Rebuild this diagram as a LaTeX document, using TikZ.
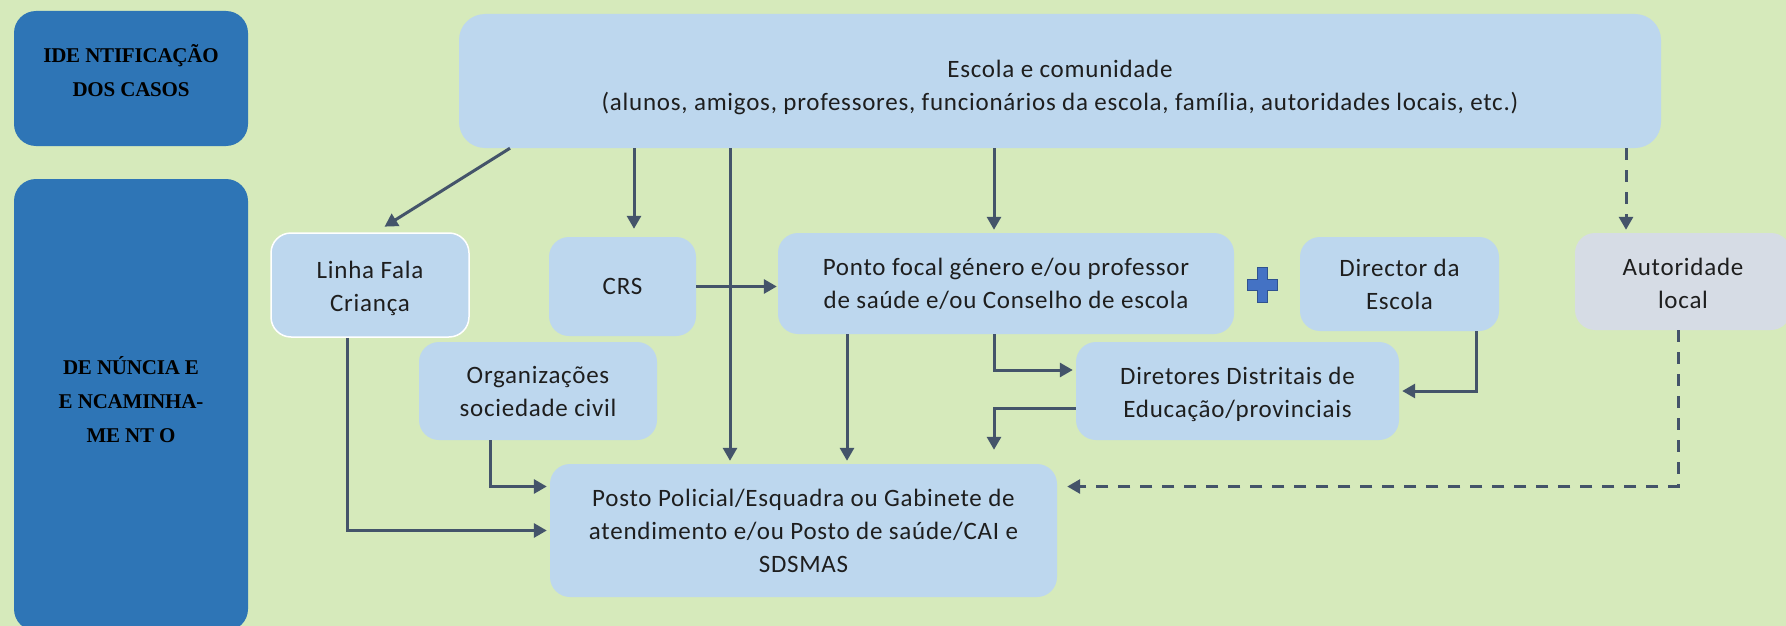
\documentclass[tikz,border=0pt]{standalone}
\usepackage{fontspec}
\setmainfont{Carlito}
\newfontfamily\bodyfont[LetterSpace=3]{Carlito}
\newfontfamily\lblfont[LetterSpace=-1]{Liberation Serif}
\usetikzlibrary{arrows.meta,calc}
\definecolor{bg}{HTML}{D6EABB}
\definecolor{dblue}{HTML}{2E75B6}
\definecolor{lblue}{HTML}{BDD7EE}
\definecolor{lgray}{HTML}{D6DCE5}
\definecolor{arrc}{HTML}{44546A}
\definecolor{plusc}{HTML}{4472C4}
\definecolor{plusd}{HTML}{2F528F}
\definecolor{txt}{HTML}{1E1E1E}
\tikzset{
  box/.style={rectangle, rounded corners=20pt, fill=lblue, text=txt, align=center,
    inner sep=0pt, font=\bodyfont\fontsize{25}{33}\selectfont},
  sidebox/.style={rectangle, rounded corners=22pt, fill=dblue, text=black, align=center,
    inner sep=0pt, font=\lblfont\bfseries\fontsize{21}{34}\selectfont},
  arr/.style={draw=arrc, line width=3pt, -{Triangle[length=13pt,width=14pt]}, shorten >=3pt},
  darr/.style={arr, dash pattern=on 12pt off 10pt},
}
\begin{document}
\begin{tikzpicture}[x=1pt,y=-1pt]
\useasboundingbox (0,0) rectangle (1786,626);
\clip (0,0) rectangle (1786,626);
\fill[bg] (0,0) rectangle (1786,626);

% side labels
\node[sidebox, text depth=16pt, minimum width=234pt, minimum height=135pt] (ident) at (131,78.5)
  {IDE NTIFICAÇÃO\\DOS CASOS};
\node[sidebox, text depth=12pt, minimum width=234pt, minimum height=452pt] (denun) at (131,405)
  {DE NÚNCIA E\\E NCAMINHA-\\ME NT O};

% flow nodes
\node[box, rounded corners=26pt, minimum width=1202pt, minimum height=134pt] (escola) at (1060,81)
  {\rule{0pt}{31pt}Escola e comunidade\\(alunos, amigos, professores, funcionários da escola, família, autoridades locais, etc.)};
\node[box, draw=white, line width=1.5pt, minimum width=198pt, minimum height=104pt] (linha) at (370,285)
  {\rule{0pt}{25pt}Linha Fala\\Criança};
\node[box, minimum width=147pt, minimum height=99pt] (crs) at (622.5,286.5) {CRS};
\node[box, minimum width=456pt, minimum height=101pt] (ponto) at (1006,283.5)
  {Ponto focal género e/ou professor\\de saúde e/ou Conselho de escola};
\node[box, minimum width=199pt, minimum height=94pt] (director) at (1399.5,284)
  {Director da\\Escola};
\node[box, fill=lgray, minimum width=216pt, minimum height=97pt] (autoridade) at (1683,281.5)
  {\rule{0pt}{22pt}Autoridade\\local};
\node[box, minimum width=238pt, minimum height=98pt] (org) at (538,391)
  {Organizações\\sociedade civil};
\node[box, minimum width=323pt, minimum height=98pt] (diretores) at (1237.5,391)
  {\rule{0pt}{24pt}Diretores Distritais de\\Educação/provinciais};
\node[box, minimum width=507pt, minimum height=133pt] (posto) at (803.5,530.5)
  {Posto Policial/Esquadra ou Gabinete de\\atendimento e/ou Posto de saúde/CAI e\\SDSMAS};

% plus sign
\filldraw[fill=plusc, draw=plusd, line width=0.8pt]
  (1257,267) -- (1267,267) -- (1267,279) -- (1277,279) -- (1277,290) -- (1267,290)
  -- (1267,302) -- (1257,302) -- (1257,290) -- (1247,290) -- (1247,279) -- (1257,279) -- cycle;

% connectors
\draw[arr] (510,0 |- escola.south) -- ($(linha.north)+(12,-4)$);
\draw[arr, shorten >=8pt] (634,0 |- escola.south) -- (634,0 |- crs.north);
\draw[arr] (730,0 |- escola.south) -- (730,0 |- posto.north);
\draw[arr] (994,0 |- escola.south) -- (994,0 |- ponto.north);
\draw[darr] (1626,0 |- escola.south) -- (1626,0 |- autoridade.north);
\draw[arr, shorten >=1pt] (crs.east) -- (crs.east -| ponto.west);
\draw[arr] (847,0 |- ponto.south) -- (847,0 |- posto.north);
\draw[arr] (994,0 |- ponto.south) |- ($(diretores.west)+(0,-21)$);
\draw[arr] (1476,0 |- director.south) |- (diretores.east);
\draw[arr, shorten >=14pt] ($(diretores.west)+(0,17)$) -| (994,0 |- posto.north);
\draw[arr] (490,0 |- org.south) |- ($(posto.west)+(0,-44)$);
\draw[arr] (347,0 |- linha.south) |- (posto.west);
\draw[darr, shorten >=10pt] (1678,0 |- autoridade.south) |- ($(posto.east)+(0,-44)$);
\end{tikzpicture}
\end{document}
